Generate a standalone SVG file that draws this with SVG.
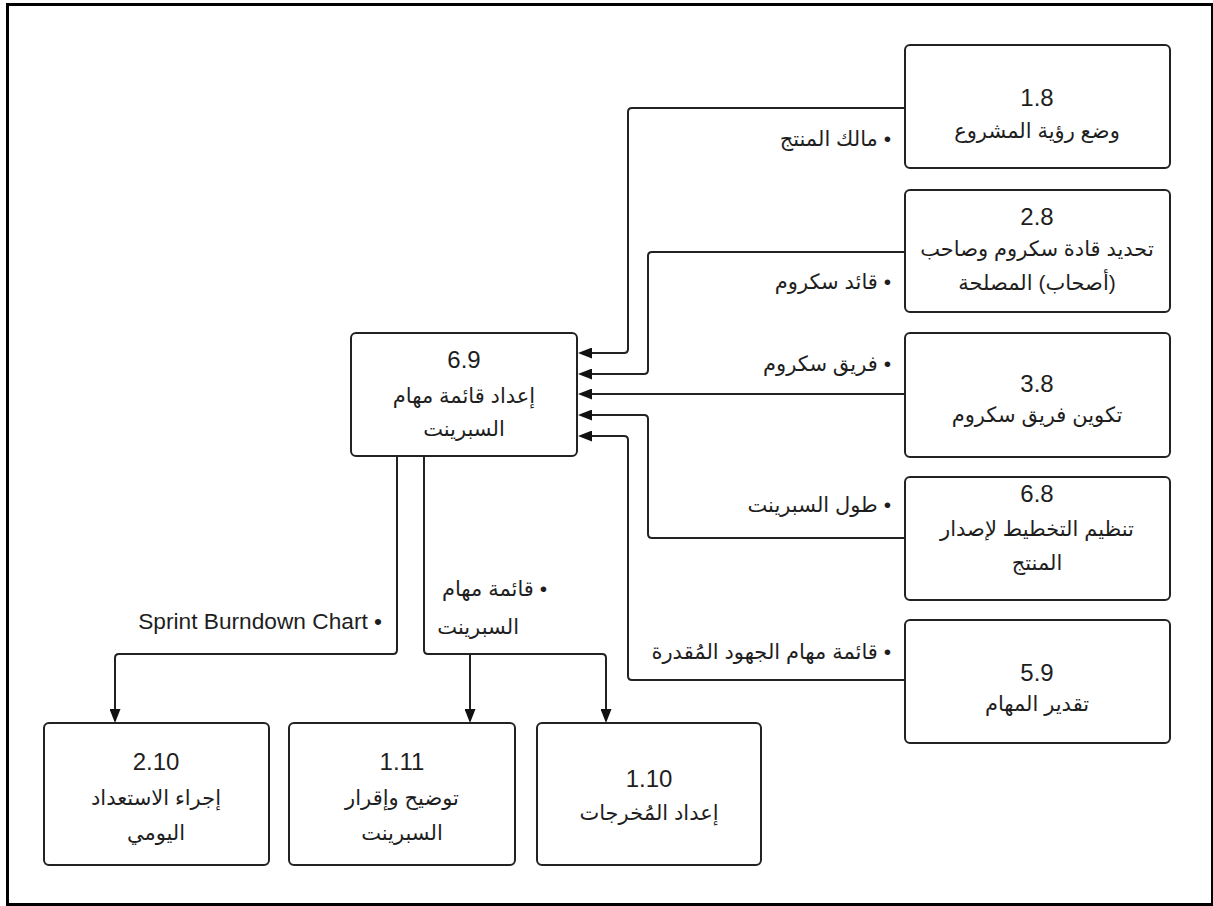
<svg xmlns="http://www.w3.org/2000/svg" width="1213" height="906" viewBox="0 0 1213 906">
  <style>
    .frame { fill: #fff; stroke: #000; stroke-width: 3; }
    .box { fill: #fff; stroke: #222; stroke-width: 2; }
    .wire { fill: none; stroke: #222; stroke-width: 2; }
    .num { font-family: "Liberation Sans", Arial, sans-serif; font-size: 24px; fill: #1e1e1e; text-anchor: middle; }
    .ar { font-family: "Liberation Sans", "DejaVu Sans", sans-serif; font-size: 21px; fill: #1e1e1e; text-anchor: middle; direction: rtl; }
    .lbl { font-family: "Liberation Sans", "DejaVu Sans", sans-serif; font-size: 21px; fill: #1e1e1e; text-anchor: start; direction: rtl; }
    .en { font-size: 22.7px; }
  </style>
  <defs>
    <marker id="arrow" markerUnits="userSpaceOnUse" viewBox="0 0 14 11" markerWidth="14" markerHeight="11" refX="0" refY="5.5" orient="auto">
      <path d="M0,0 L14,5.5 L0,11 Z" fill="#111"/>
    </marker>
  </defs>

  <rect class="frame" x="7.5" y="4.5" width="1205" height="900"/>

  <!-- connectors -->
  <g id="connectors">
    <path class="wire" marker-end="url(#arrow)" d="M904,108 H632 Q628,108 628,112 V349 Q628,353 624,353 H592"/>
    <path class="wire" marker-end="url(#arrow)" d="M904,252 H652 Q648,252 648,256 V370 Q648,374 644,374 H592"/>
    <path class="wire" marker-end="url(#arrow)" d="M904,394 H592"/>
    <path class="wire" marker-end="url(#arrow)" d="M904,538 H652 Q648,538 648,534 V419 Q648,415 644,415 H592"/>
    <path class="wire" marker-end="url(#arrow)" d="M904,680 H632 Q628,680 628,676 V440 Q628,436 624,436 H592"/>
    <path class="wire" marker-end="url(#arrow)" d="M397,457 V650 Q397,654 393,654 H119 Q115,654 115,658 V709"/>
    <path class="wire" marker-end="url(#arrow)" d="M424,457 V650 Q424,654 428,654 H602 Q606,654 606,658 V709"/>
    <path class="wire" marker-end="url(#arrow)" d="M470,654 V709"/>

    <text class="lbl" x="891" y="146">• مالك المنتج</text>
    <text class="lbl" x="891" y="289">• قائد سكروم</text>
    <text class="lbl" x="891" y="371">• فريق سكروم</text>
    <text class="lbl" x="891" y="512">• طول السبرينت</text>
    <text class="lbl" x="891" y="659">• قائمة مهام الجهود المُقدرة</text>
    <text class="lbl en" x="382" y="629">• Sprint Burndown Chart</text>
    <text class="lbl" x="547" y="596">• قائمة مهام</text>
    <text class="lbl" x="519" y="634">السبرينت</text>
  </g>

  <!-- inputs -->
  <g id="n18">
    <rect class="box" x="905" y="45" width="265" height="123" rx="5"/>
    <text class="num" x="1037" y="106">1.8</text>
    <text class="ar" x="1037" y="138">وضع رؤية المشروع</text>
  </g>
  <g id="n28">
    <rect class="box" x="905" y="190" width="265" height="122" rx="5"/>
    <text class="num" x="1037" y="225">2.8</text>
    <text class="ar" x="1037" y="256">تحديد قادة سكروم وصاحب</text>
    <text class="ar" x="1037" y="290">(أصحاب) المصلحة</text>
  </g>
  <g id="n38">
    <rect class="box" x="905" y="333" width="265" height="124" rx="5"/>
    <text class="num" x="1037" y="392">3.8</text>
    <text class="ar" x="1037" y="422">تكوين فريق سكروم</text>
  </g>
  <g id="n68">
    <rect class="box" x="905" y="477" width="265" height="123" rx="5"/>
    <text class="num" x="1037" y="502">6.8</text>
    <text class="ar" x="1037" y="536">تنظيم التخطيط لإصدار</text>
    <text class="ar" x="1037" y="570">المنتج</text>
  </g>
  <g id="n59">
    <rect class="box" x="905" y="620" width="265" height="123" rx="5"/>
    <text class="num" x="1037" y="681">5.9</text>
    <text class="ar" x="1037" y="711">تقدير المهام</text>
  </g>

  <!-- central process -->
  <g id="n69">
    <rect class="box" x="351" y="333" width="226" height="123" rx="5"/>
    <text class="num" x="464" y="368">6.9</text>
    <text class="ar" x="464" y="403">إعداد قائمة مهام</text>
    <text class="ar" x="464" y="436">السبرينت</text>
  </g>

  <!-- outputs -->
  <g id="n210">
    <rect class="box" x="44" y="723" width="225" height="142" rx="5"/>
    <text class="num" x="156" y="770">2.10</text>
    <text class="ar" x="156" y="805">إجراء الاستعداد</text>
    <text class="ar" x="156" y="840">اليومي</text>
  </g>
  <g id="n111">
    <rect class="box" x="289" y="723" width="226" height="142" rx="5"/>
    <text class="num" x="402" y="770">1.11</text>
    <text class="ar" x="402" y="805">توضيح وإقرار</text>
    <text class="ar" x="402" y="840">السبرينت</text>
  </g>
  <g id="n110">
    <rect class="box" x="537" y="723" width="224" height="142" rx="5"/>
    <text class="num" x="649" y="787">1.10</text>
    <text class="ar" x="649" y="820">إعداد المُخرجات</text>
  </g>
</svg>
